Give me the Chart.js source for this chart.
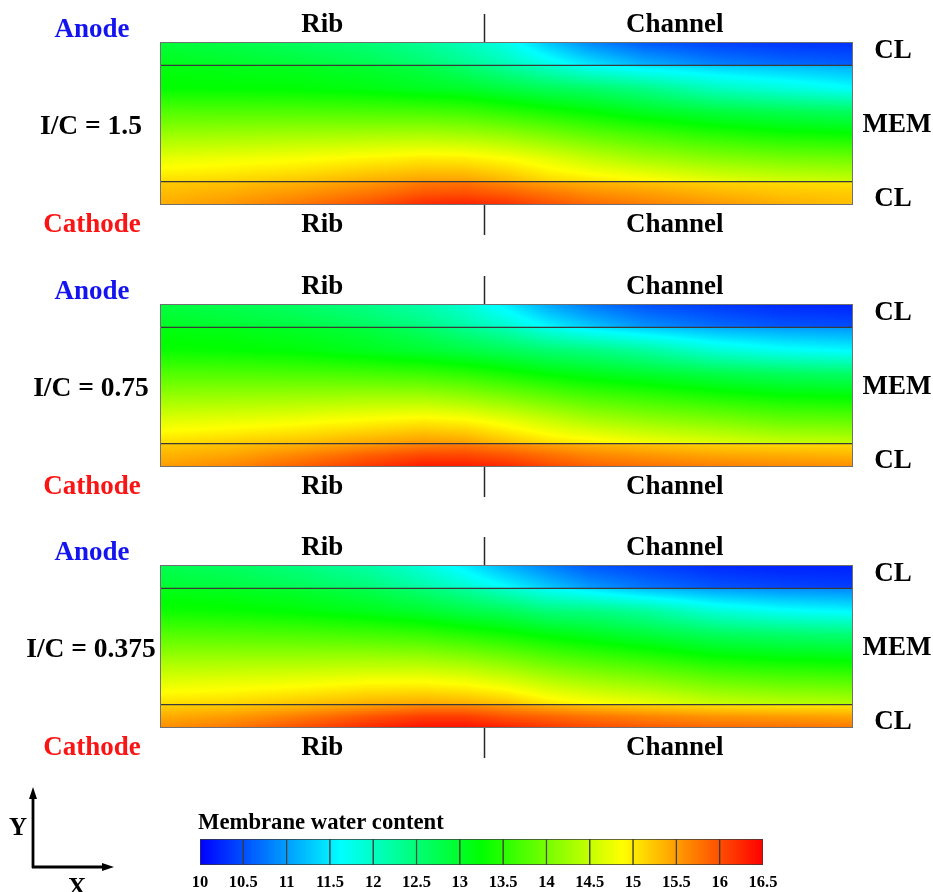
<!DOCTYPE html>
<html>
<head>
<meta charset="utf-8">
<title>Membrane water content</title>
<script src="https://cdn.jsdelivr.net/npm/chart.js@4.4.1/dist/chart.umd.min.js"></script>
<style>
  html, body { margin: 0; background: #fff; }
  body { position: relative; width: 933px; height: 892px; overflow: hidden; }
  canvas { position: absolute; left: 0; }
</style>
</head>
<body>
<canvas id="case0" width="933" height="262" style="top:0"></canvas>
<canvas id="case1" width="933" height="262" style="top:262px"></canvas>
<canvas id="case2" width="933" height="262" style="top:523px"></canvas>
<canvas id="colorbar" width="933" height="122" style="top:770px"></canvas>
<script>
// Membrane water content (lambda) in the MEA cross-section for three I/C ratios
const caseLabels = ["I/C = 1.5", "I/C = 0.75", "I/C = 0.375"];

// in-plane position: 0 = rib middle, 1 = channel middle, rib ends at ribEdge
const xNodes = [0, 0.1, 0.2, 0.3, 0.38, 0.44, 0.5, 0.56, 0.62, 0.7, 0.8, 0.9, 1.0];
const ribEdge = 0.468;

// through-plane position (um), anode CL on top, cathode CL at the bottom
const yNodes = [70, 60, 60, 50, 40, 30, 20, 10, 10, 5, 0];
const rowLayer = ["aCL", "aCL", "MEM", "MEM", "MEM", "MEM", "MEM", "MEM", "cCL", "cCL", "cCL"];
const clInterfaces = [60, 10];

// one row per yNodes entry, one value per xNodes entry
const lambdaIC150 = [
  [12.9, 12.8, 12.65, 12.5, 12.3, 12.05, 11.75, 11.25, 10.85, 10.55, 10.4, 10.32, 10.3],
  [13.1, 13.0, 12.9, 12.75, 12.55, 12.35, 12.1, 11.8, 11.5, 11.15, 10.85, 10.7, 10.6],
  [13.15, 13.1, 13.05, 12.95, 12.8, 12.55, 12.25, 11.95, 11.65, 11.45, 11.3, 11.2, 11.1],
  [13.27, 13.25, 13.22, 13.15, 13.05, 12.99, 12.85, 12.7, 12.6, 12.4, 12.05, 11.85, 11.65],
  [13.77, 13.76, 13.76, 13.73, 13.7, 13.65, 13.52, 13.38, 13.25, 13.05, 12.87, 12.75, 12.65],
  [14.24, 14.27, 14.3, 14.33, 14.35, 14.3, 14.2, 14.04, 13.87, 13.7, 13.5, 13.37, 13.3],
  [14.72, 14.78, 14.84, 14.93, 15.0, 14.98, 14.87, 14.7, 14.5, 14.3, 14.12, 14.0, 13.95],
  [15.1, 15.15, 15.25, 15.4, 15.5, 15.5, 15.35, 15.15, 15.05, 14.94, 14.75, 14.62, 14.55],
  [15.2, 15.25, 15.35, 15.5, 15.7, 15.75, 15.6, 15.45, 15.35, 15.25, 15.15, 15.1, 15.05],
  [15.3, 15.4, 15.55, 15.75, 15.95, 16.0, 15.9, 15.75, 15.6, 15.5, 15.35, 15.25, 15.2],
  [15.4, 15.55, 15.75, 16.0, 16.25, 16.3, 16.2, 16.0, 15.85, 15.7, 15.55, 15.4, 15.3]
];
const lambdaIC075 = [
  [12.85, 12.75, 12.6, 12.4, 12.15, 11.9, 11.5, 11.05, 10.75, 10.5, 10.35, 10.25, 10.2],
  [13.05, 12.95, 12.85, 12.65, 12.45, 12.2, 11.95, 11.6, 11.3, 10.95, 10.7, 10.55, 10.5],
  [13.15, 13.1, 13.0, 12.85, 12.6, 12.35, 12.1, 11.75, 11.5, 11.3, 11.1, 11.0, 10.95],
  [13.31, 13.27, 13.2, 13.07, 12.95, 12.83, 12.7, 12.55, 12.45, 12.25, 11.9, 11.7, 11.6],
  [13.77, 13.76, 13.73, 13.68, 13.62, 13.52, 13.38, 13.22, 13.1, 12.97, 12.8, 12.67, 12.6],
  [14.22, 14.24, 14.27, 14.3, 14.3, 14.2, 14.06, 13.88, 13.73, 13.6, 13.43, 13.3, 13.25],
  [14.68, 14.73, 14.8, 14.9, 14.97, 14.91, 14.74, 14.54, 14.35, 14.2, 14.06, 13.9, 13.87],
  [15.1, 15.2, 15.3, 15.45, 15.55, 15.5, 15.3, 15.1, 15.0, 14.84, 14.7, 14.55, 14.5],
  [15.2, 15.25, 15.35, 15.5, 15.65, 15.7, 15.6, 15.45, 15.35, 15.25, 15.15, 15.1, 15.1],
  [15.35, 15.45, 15.65, 15.9, 16.05, 16.05, 15.95, 15.8, 15.65, 15.55, 15.45, 15.4, 15.35],
  [15.5, 15.65, 15.9, 16.15, 16.35, 16.35, 16.25, 16.05, 15.9, 15.8, 15.7, 15.65, 15.6]
];
const lambdaIC0375 = [
  [12.75, 12.65, 12.45, 12.2, 11.85, 11.5, 11.1, 10.8, 10.55, 10.4, 10.25, 10.2, 10.2],
  [12.95, 12.85, 12.7, 12.5, 12.2, 11.95, 11.65, 11.3, 11.0, 10.75, 10.55, 10.45, 10.4],
  [13.1, 13.05, 12.95, 12.75, 12.5, 12.25, 11.95, 11.65, 11.45, 11.2, 11.0, 10.9, 10.85],
  [13.34, 13.3, 13.22, 13.1, 12.97, 12.82, 12.7, 12.5, 12.45, 12.28, 11.9, 11.7, 11.6],
  [13.79, 13.77, 13.74, 13.68, 13.6, 13.48, 13.35, 13.19, 13.07, 12.9, 12.69, 12.59, 12.52],
  [14.24, 14.25, 14.25, 14.27, 14.24, 14.14, 14.0, 13.81, 13.68, 13.53, 13.31, 13.22, 13.16],
  [14.68, 14.72, 14.77, 14.85, 14.86, 14.8, 14.65, 14.44, 14.3, 14.16, 13.94, 13.84, 13.79],
  [15.1, 15.15, 15.27, 15.4, 15.45, 15.4, 15.3, 15.06, 14.92, 14.78, 14.56, 14.47, 14.41],
  [15.15, 15.2, 15.3, 15.45, 15.6, 15.6, 15.5, 15.35, 15.25, 15.15, 15.05, 15.0, 15.0],
  [15.4, 15.5, 15.7, 15.95, 16.1, 16.1, 15.95, 15.85, 15.75, 15.65, 15.55, 15.5, 15.45],
  [15.6, 15.75, 16.0, 16.25, 16.4, 16.4, 16.3, 16.15, 16.05, 15.95, 15.85, 15.8, 15.75]
];
const caseGrids = [lambdaIC150, lambdaIC075, lambdaIC0375];

const barTicks = [10, 10.5, 11, 11.5, 12, 12.5, 13, 13.5, 14, 14.5, 15, 15.5, 16, 16.5];

// rainbow map: blue -> cyan -> green -> yellow -> red over 10..16.5
const mapStops = [10, 11.625, 13.25, 14.875, 16.5];
const mapRGB = [[0, 0, 255], [0, 255, 255], [0, 255, 0], [255, 255, 0], [255, 0, 0]];

function lambdaRGB(v) {
  const t = Math.min(Math.max(v, mapStops[0]), mapStops[4]);
  let k = 0;
  while (k < 3 && t > mapStops[k + 1]) k++;
  const f = (t - mapStops[k]) / (mapStops[k + 1] - mapStops[k]);
  return mapRGB[k].map((c, j) => Math.round(c + (mapRGB[k + 1][j] - c) * f));
}

const SERIF = "'Liberation Serif', 'Times New Roman', serif";

// paints the field between neighbouring node rows of the same layer
const fieldShading = {
  id: "fieldShading",
  beforeDatasetsDraw(chart) {
    const a = chart.chartArea;
    const w = Math.round(a.right - a.left), h = Math.round(a.bottom - a.top);
    const off = document.createElement("canvas");
    off.width = w; off.height = h;
    const octx = off.getContext("2d");
    const img = octx.createImageData(w, h);
    for (let r = 0; r < yNodes.length - 1; r++) {
      if (rowLayer[r] !== rowLayer[r + 1]) continue;
      const top = chart.getDatasetMeta(r).data, bot = chart.getDatasetMeta(r + 1).data;
      const vt = chart.data.datasets[r].data, vb = chart.data.datasets[r + 1].data;
      const y0 = top[0].y - a.top, y1 = bot[0].y - a.top;
      for (let i = 0; i < xNodes.length - 1; i++) {
        const x0 = top[i].x - a.left, x1 = top[i + 1].x - a.left;
        for (let py = Math.max(0, Math.floor(y0)); py < Math.min(h, Math.ceil(y1)); py++) {
          const s = Math.min(1, Math.max(0, (py + 0.5 - y0) / (y1 - y0)));
          for (let px = Math.max(0, Math.floor(x0)); px < Math.min(w, Math.ceil(x1)); px++) {
            const u = Math.min(1, Math.max(0, (px + 0.5 - x0) / (x1 - x0)));
            const v = (1 - s) * ((1 - u) * vt[i].v + u * vt[i + 1].v) +
                      s * ((1 - u) * vb[i].v + u * vb[i + 1].v);
            const c = lambdaRGB(v);
            const k = (py * w + px) * 4;
            img.data[k] = c[0]; img.data[k + 1] = c[1]; img.data[k + 2] = c[2]; img.data[k + 3] = 255;
          }
        }
      }
    }
    octx.putImageData(img, 0, 0);
    chart.ctx.drawImage(off, a.left, a.top);
  }
};

// frame, rib/channel divider and the labels round each panel
const panelLabels = {
  id: "panelLabels",
  afterDraw(chart, args, opts) {
    const { ctx, chartArea: a, scales: { x } } = chart;
    const xr = Math.round(x.getPixelForValue(ribEdge)) + 0.5;
    const midY = (a.top + a.bottom) / 2;
    ctx.save();
    ctx.strokeStyle = "#707070";
    ctx.lineWidth = 1;
    ctx.strokeRect(a.left + 0.5, a.top + 0.5, a.width - 1, a.height - 1);
    ctx.strokeStyle = "#2a2a2a";
    ctx.lineWidth = 1.5;
    ctx.beginPath();
    ctx.moveTo(xr, a.top - 28); ctx.lineTo(xr, a.top);
    ctx.moveTo(xr, a.bottom); ctx.lineTo(xr, a.bottom + 30);
    ctx.stroke();

    ctx.font = "bold 27px " + SERIF;
    ctx.textAlign = "center";
    ctx.textBaseline = "middle";
    ctx.fillStyle = "#000";
    const ribX = x.getPixelForValue(ribEdge / 2);
    const chanX = x.getPixelForValue((ribEdge + 1) / 2) + 6;
    ctx.fillText("Rib", ribX, a.top - 17);
    ctx.fillText("Channel", chanX, a.top - 17);
    ctx.fillText("Rib", ribX, a.bottom + 20);
    ctx.fillText("Channel", chanX, a.bottom + 20);
    ctx.fillText("CL", a.right + 40, a.top + 9);
    ctx.fillText("MEM", a.right + 44, midY + 2);
    ctx.fillText("CL", a.right + 40, a.bottom - 6);
    ctx.fillStyle = "#1414f0";
    ctx.fillText("Anode", a.left - 68, a.top - 12);
    ctx.fillStyle = "#fa1414";
    ctx.fillText("Cathode", a.left - 68, a.bottom + 20);
    ctx.fillStyle = "#000";
    ctx.font = "bold 27.5px " + SERIF;
    ctx.fillText(opts.caseLabel, a.left - 69, midY + 3);
    ctx.restore();
  }
};

caseGrids.forEach((grid, c) => {
  const rows = yNodes.map((y, r) => ({
    label: rowLayer[r] + " " + y,
    data: xNodes.map((x, i) => ({ x: x, y: y, v: grid[r][i] })),
    pointRadius: 0,
    pointHoverRadius: 0,
    showLine: false
  }));
  const interfaces = clInterfaces.map(y => ({
    label: "interface " + y,
    data: [{ x: xNodes[0], y: y }, { x: xNodes[xNodes.length - 1], y: y }],
    showLine: true,
    borderColor: "#3a3a3a",
    borderWidth: 1.2,
    pointRadius: 0
  }));

  new Chart(document.getElementById("case" + c), {
    type: "scatter",
    data: { datasets: rows.concat(interfaces) },
    options: {
      responsive: false,
      animation: false,
      events: [],
      layout: { padding: { left: 160, right: 80, top: 42, bottom: 57 } },
      scales: {
        x: { type: "linear", min: 0, max: 1, display: false },
        y: { type: "linear", min: 0, max: 70, display: false }
      },
      plugins: {
        legend: { display: false },
        tooltip: { enabled: false },
        panelLabels: { caseLabel: caseLabels[c] }
      }
    },
    plugins: [fieldShading, panelLabels]
  });
});

function barGradient(chart) {
  const x = chart.scales.x;
  const x0 = x ? x.getPixelForValue(barTicks[0]) : NaN;
  const x1 = x ? x.getPixelForValue(barTicks[barTicks.length - 1]) : NaN;
  if (!isFinite(x0) || !isFinite(x1) || x0 === x1) return "rgba(0,0,0,0)";
  const g = chart.ctx.createLinearGradient(x0, 0, x1, 0);
  mapStops.forEach((s, k) => {
    g.addColorStop((s - mapStops[0]) / (mapStops[4] - mapStops[0]), "rgb(" + mapRGB[k].join(",") + ")");
  });
  return g;
}

// colour bar title and the X/Y direction arrows
const barDecor = {
  id: "barDecor",
  afterDraw(chart) {
    const { ctx, chartArea: a } = chart;
    ctx.save();
    ctx.fillStyle = "#000";
    ctx.textBaseline = "middle";
    ctx.textAlign = "left";
    ctx.font = "bold 22.7px " + SERIF;
    ctx.fillText("Membrane water content", a.left - 2, a.top - 16);

    ctx.strokeStyle = "#000";
    ctx.lineWidth = 2.8;
    ctx.beginPath();
    ctx.moveTo(33, 98); ctx.lineTo(33, 26);
    ctx.moveTo(32, 97); ctx.lineTo(104, 97);
    ctx.stroke();
    ctx.beginPath();
    ctx.moveTo(33, 17); ctx.lineTo(29, 29); ctx.lineTo(37, 29); ctx.closePath();
    ctx.moveTo(114, 97); ctx.lineTo(102, 93); ctx.lineTo(102, 101); ctx.closePath();
    ctx.fill();
    ctx.textAlign = "center";
    ctx.font = "bold 25px " + SERIF;
    ctx.fillText("Y", 18, 59);
    ctx.fillText("X", 77, 119);
    ctx.restore();
  }
};

new Chart(document.getElementById("colorbar"), {
  type: "bar",
  data: {
    labels: ["lambda"],
    datasets: [{
      data: barTicks.slice(0, -1).map((t, i) => ({ x: [t, barTicks[i + 1]], y: "lambda" })),
      backgroundColor: ctx => barGradient(ctx.chart),
      borderColor: "#3a3a3a",
      borderWidth: 1,
      borderSkipped: false,
      barPercentage: 1,
      categoryPercentage: 1,
      grouped: false
    }]
  },
  options: {
    indexAxis: "y",
    responsive: false,
    animation: false,
    events: [],
    layout: { padding: { left: 200, right: 170, top: 69, bottom: 0 } },
    scales: {
      x: {
        type: "linear",
        min: barTicks[0],
        max: barTicks[barTicks.length - 1],
        afterBuildTicks: s => { s.ticks = barTicks.map(v => ({ value: v })); },
        afterFit: s => { s.height = 27; },
        grid: { display: false, drawTicks: false },
        border: { display: false },
        ticks: {
          autoSkip: false,
          maxRotation: 0,
          padding: 8,
          color: "#000",
          font: { family: SERIF, size: 16.5, weight: "bold" },
          callback: v => String(v)
        }
      },
      y: { display: false }
    },
    plugins: { legend: { display: false }, tooltip: { enabled: false } }
  },
  plugins: [barDecor]
});
</script>
</body>
</html>
